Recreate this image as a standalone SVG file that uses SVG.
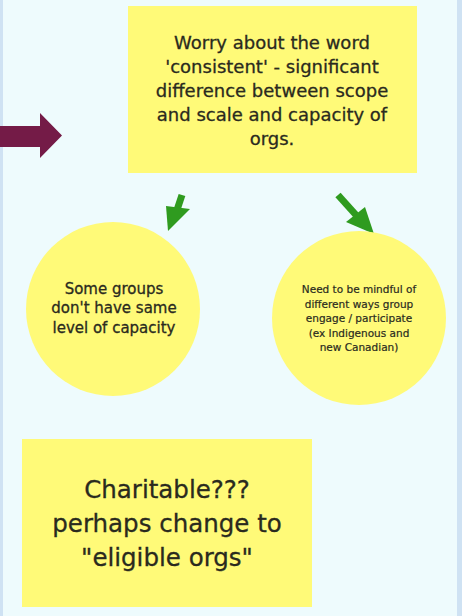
<svg xmlns="http://www.w3.org/2000/svg" width="462" height="616" viewBox="0 0 462 616">
<style>
.note{fill:#fffa78}
.t{font-family:"DejaVu Sans","Liberation Sans",sans-serif;fill:#2a2a1e;stroke:#2a2a1e;stroke-width:0.3;text-anchor:middle}
.g{fill:#2f9b1f}
</style>
<rect x="0" y="0" width="462" height="616" fill="#cfe2f3"/>
<rect x="3" y="0" width="454" height="616" fill="#eefbfd"/>
<g id="connectors">
<polygon id="maroon-arrow" points="0,126 40,126 40,113 62,135.5 40,158 40,147 0,147" fill="#741b47"/>
<g id="green-arrow-left">
<line x1="182" y1="195" x2="177" y2="210" stroke="#2f9b1f" stroke-width="7"/>
<polygon class="g" points="166,206 190,209 168,231"/>
</g>
<g id="green-arrow-right">
<line x1="338" y1="195" x2="356" y2="215" stroke="#2f9b1f" stroke-width="7"/>
<polygon class="g" points="346,222 365,207 374,234"/>
</g>
</g>
<g id="node-top">
<rect class="note" x="128" y="6" width="289" height="167"/>
<text class="t" font-size="18"><tspan x="272" y="49">Worry about the word</tspan><tspan x="272" y="73">'consistent' - significant</tspan><tspan x="272" y="97">difference between scope</tspan><tspan x="272" y="121">and scale and capacity of</tspan><tspan x="272" y="145">orgs.</tspan></text>
</g>
<g id="node-left">
<circle class="note" cx="113" cy="309" r="87"/>
<text class="t" font-size="15"><tspan x="114" y="294">Some groups</tspan><tspan x="114" y="313">don't have same</tspan><tspan x="114" y="333">level of capacity</tspan></text>
</g>
<g id="node-right">
<circle class="note" cx="359" cy="318" r="87"/>
<text class="t" font-size="10.5" style="stroke-width:0.2"><tspan x="359" y="293">Need to be mindful of</tspan><tspan x="359" y="308">different ways group</tspan><tspan x="359" y="322">engage / participate</tspan><tspan x="359" y="337">(ex Indigenous and</tspan><tspan x="359" y="351">new Canadian)</tspan></text>
</g>
<g id="node-bottom">
<rect class="note" x="22" y="439" width="290" height="168"/>
<text class="t" font-size="24.5"><tspan x="167" y="498">Charitable???</tspan><tspan x="167" y="532">perhaps change to</tspan><tspan x="167" y="566">"eligible orgs"</tspan></text>
</g>
</svg>
